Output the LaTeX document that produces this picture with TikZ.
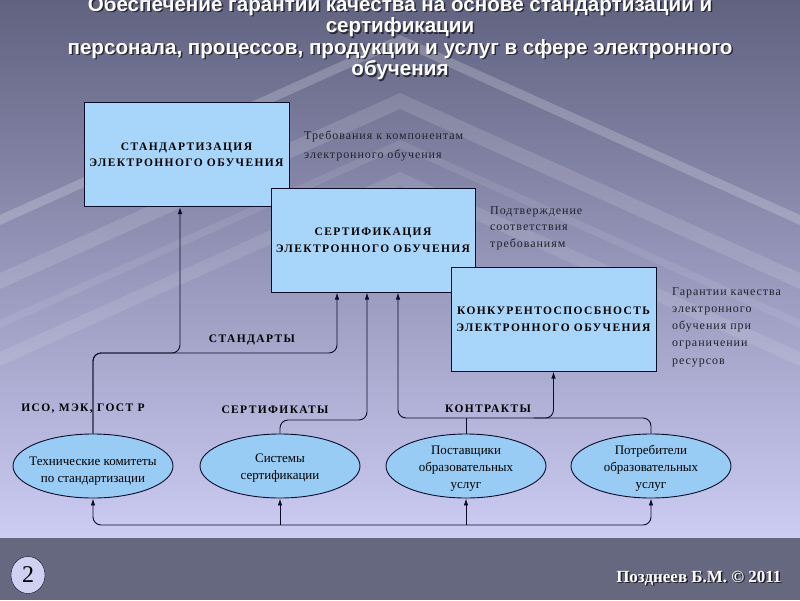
\documentclass[tikz,border=0pt]{standalone}
\usepackage{fontspec}
\setmainfont{Liberation Serif}
\newfontfamily\titlefont{Liberation Sans}
\newfontfamily\spacedfont[LetterSpace=12]{Liberation Serif}
\newfontfamily\sidefont[LetterSpace=8]{Liberation Serif}
\usetikzlibrary{arrows,arrows.meta,positioning,calc,shapes}

\definecolor{bgtop}{RGB}{96,98,128}
\definecolor{bgmid}{RGB}{150,152,192}
\definecolor{bgbot}{RGB}{204,204,244}
\definecolor{footgray}{RGB}{102,104,128}
\definecolor{boxblue}{RGB}{168,214,250}
\definecolor{ovalblue}{RGB}{152,204,244}
\definecolor{inkline}{RGB}{12,12,40}
\definecolor{sidegray}{RGB}{34,34,44}
\definecolor{badge}{RGB}{208,208,242}

\tikzset{
  box/.style={draw=inkline, line width=1pt, fill=boxblue, minimum width=205pt,
    minimum height=104pt, align=center, font=\fontsize{11.5}{16.5}\spacedfont\bfseries},
  oval/.style={ellipse, draw=inkline, line width=0.9pt, fill=ovalblue,
    minimum width=160pt, minimum height=64pt, inner sep=0pt},
  ovaltext/.style={align=center, inner sep=0pt, font=\fontsize{13}{17}\selectfont},
  side/.style={anchor=west, align=left, text=sidegray, inner sep=0pt},
  lbl/.style={font=\fontsize{11.5}{14}\spacedfont\bfseries, inner sep=0pt},
  wire/.style={draw=inkline, line width=0.9pt, rounded corners=8pt},
  shout/.style={font=\fontsize{20.6}{21.5}\titlefont\bfseries, align=center},
}
\newcommand{\titletext}{Обеспечение гарантии качества на основе стандартизации и\\сертификации\\персонала, процессов, продукции и услуг в сфере электронного\\обучения}

\begin{document}
\begin{tikzpicture}[x=1pt,y=-1pt,>={Latex[length=7pt,width=4.5pt]}]
\useasboundingbox (0,0) rectangle (800,600);
\clip (0,0) rectangle (800,600);
% background
\shade[top color=bgtop, middle color=bgmid, bottom color=bgbot] (0,0) rectangle (800,538);
\foreach \a/\t/\o in {35/10/0.2, 93/16/0.13, 140/8/0.09, 172/14/0.11}
  \fill[white, opacity=\o] (400,\a) -- (800,\a+180) -- (800,\a+180+\t) -- (400,\a+\t)
    -- (0,\a+180+\t) -- (0,\a+180) -- cycle;
\fill[footgray] (0,538) rectangle (800,600);

% title
\node[shout, text=black, opacity=0.6] at (401.5,39.5) {\titletext};
\node[shout, text=white] (title) at (400,38) {\titletext};

% boxes
\node[box] (std) at (186.5,154.5) {СТАНДАРТИЗАЦИЯ\\ЭЛЕКТРОННОГО ОБУЧЕНИЯ};
\node[box, minimum width=204pt] (cert) at (373,240) {СЕРТИФИКАЦИЯ\\ЭЛЕКТРОННОГО ОБУЧЕНИЯ};
\node[box] (comp) at (553.5,319) {КОНКУРЕНТОСПОСБНОСТЬ\\ЭЛЕКТРОННОГО ОБУЧЕНИЯ};

\node[side, font=\fontsize{12}{19}\sidefont] (req) at (304,145.5) {Требования к компонентам\\электронного обучения};
\node[side, font=\fontsize{12}{16.5}\sidefont] (conf) at (490,228) {Подтверждение\\соответствия\\требованиям};
\node[side, font=\fontsize{12}{17.3}\sidefont] (guar) at (672,327) {Гарантии качества\\электронного\\обучения при\\ограничении\\ресурсов};

% ovals
\node[oval] (e1) at (93,466) {};
\node[oval] (e2) at (280,466) {};
\node[oval] (e3) at (466,466) {};
\node[oval] (e4) at (651,466) {};
\node[ovaltext] (e1t) at (93,471) {Технические комитеты\\по стандартизации};
\node[ovaltext] (e2t) at (280,468.5) {Системы\\сертификации};
\node[ovaltext] (e3t) at (466,468.5) {Поставщики\\образовательных\\услуг};
\node[ovaltext] (e4t) at (651,468.5) {Потребители\\образовательных\\услуг};

% labels
\node[lbl] (lstd) at (252,340) {СТАНДАРТЫ};
\node[lbl] (liso) at (83,409) {ИСО, МЭК, ГОСТ Р};
\node[lbl] (lcrt) at (275,410) {СЕРТИФИКАТЫ};
\node[lbl] (lcon) at (488,409) {КОНТРАКТЫ};

% connectors
\coordinate (sup) at (180,353);
\coordinate (sbus) at (337,353);
\coordinate (cbus) at (367,420);
\coordinate (kbus) at (398,418);
\coordinate (bbus) at (370,525);
\draw[wire,->] (e1.north) |- (sbus) -- (sbus |- cert.south);
\draw[wire,->] (e1.north) |- (sup) -- (sup |- std.south);
\draw[wire,->] (e2.north) |- (cbus) -- (cbus |- cert.south);
\draw[wire,->] (e4.north) |- (kbus) -- (kbus |- cert.south);
\draw[wire] (e3.north) -- (e3.north |- kbus);
\draw[wire,->] ($(comp.south |- kbus)+(-20,0)$) -| (comp.south);
\draw[wire,<->] (e1.south) |- (bbus) -| (e4.south);
\draw[wire,->] (e2.south |- bbus) -- (e2.south);
\draw[wire,->] (e3.south |- bbus) -- (e3.south);

% footer
\node[draw=inkline, fill=badge, ellipse, minimum width=34pt, minimum height=37pt,
  inner sep=0pt, font=\fontsize{24}{24}\selectfont] (pg) at (28,575) {2};
\node[anchor=east, font=\fontsize{17}{17}\selectfont\bfseries, text=black, opacity=0.7] at (786.5,579.5) {Позднеев Б.М. © 2011};
\node[anchor=east, font=\fontsize{17}{17}\selectfont\bfseries, text=white] (auth) at (785,578) {Позднеев Б.М. © 2011};
\end{tikzpicture}
\end{document}
